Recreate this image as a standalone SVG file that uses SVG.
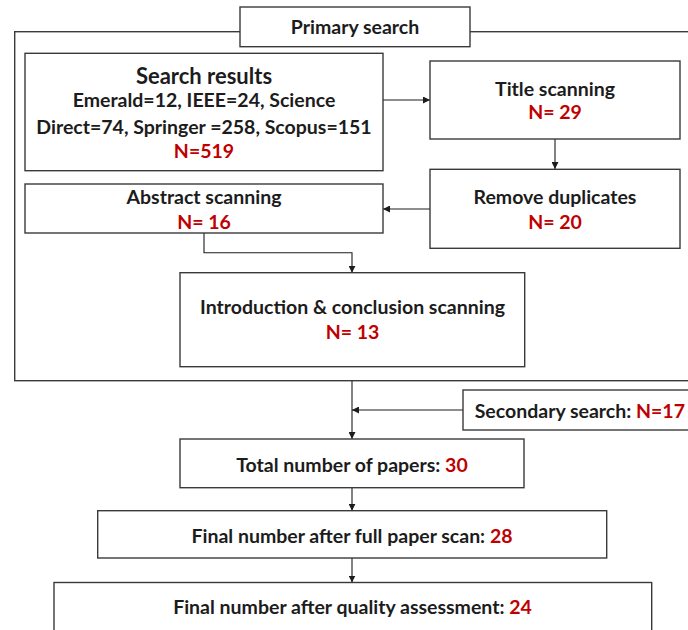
<svg xmlns="http://www.w3.org/2000/svg" width="688" height="630" viewBox="0 0 688 630">
<defs>
<style>
.box{fill:#ffffff;stroke:#3a3a3a;stroke-width:1.4}
.frame{fill:none;stroke:#3a3a3a;stroke-width:1.4}
.t{font-family:Lato,"Liberation Sans",sans-serif;font-weight:bold;font-size:19.5px;fill:#1c1c1c;text-anchor:middle}
.big{font-size:22px}
.sec{text-anchor:start}
.r{fill:#c00000}
.c{fill:none;stroke:#1c1c1c;stroke-width:1.1}
</style>
<marker id="ah" viewBox="0 0 10 10" refX="10" refY="5" markerWidth="7" markerHeight="7" markerUnits="userSpaceOnUse" orient="auto">
<path d="M0,0 L10,5 L0,10 z" fill="#1c1c1c"/>
</marker>
</defs>
<rect width="688" height="630" fill="#ffffff"/>
<g id="primary-frame">
<rect class="frame" x="14.7" y="31.7" width="690" height="349"/>
</g>
<g id="connectors">
<line class="c" x1="383" y1="100" x2="430" y2="100" marker-end="url(#ah)"/>
<line class="c" x1="555" y1="139" x2="555" y2="169" marker-end="url(#ah)"/>
<line class="c" x1="430" y1="209" x2="383" y2="209" marker-end="url(#ah)"/>
<polyline class="c" points="204,233 204,252.7 352,252.7 352,272.7" marker-end="url(#ah)"/>
<line class="c" x1="352" y1="381" x2="352" y2="439" marker-end="url(#ah)"/>
<line class="c" x1="463" y1="410" x2="352" y2="410" marker-end="url(#ah)"/>
<line class="c" x1="352" y1="487.7" x2="352" y2="510.7" marker-end="url(#ah)"/>
<line class="c" x1="352" y1="558" x2="352" y2="582.5" marker-end="url(#ah)"/>
</g>
<g id="primary-search">
<rect class="box" x="240" y="7" width="230" height="39.7"/>
<text class="t" x="355" y="34">Primary search</text>
</g>
<g id="search-results">
<rect class="box" x="25" y="53.3" width="358" height="117.4"/>
<text class="t big" x="204" y="83.5">Search results</text>
<text class="t" x="204" y="107">Emerald=12, IEEE=24, Science</text>
<text class="t" x="204" y="133.5">Direct=74, Springer =258, Scopus=151</text>
<text class="t r" x="204" y="158">N=519</text>
</g>
<g id="title-scanning">
<rect class="box" x="430" y="61" width="250" height="78"/>
<text class="t" x="555" y="96">Title scanning</text>
<text class="t r" x="555" y="119">N= 29</text>
</g>
<g id="remove-duplicates">
<rect class="box" x="430" y="169.3" width="250" height="79"/>
<text class="t" x="555" y="204">Remove duplicates</text>
<text class="t r" x="555" y="228.5">N= 20</text>
</g>
<g id="abstract-scanning">
<rect class="box" x="25" y="184" width="358" height="49"/>
<text class="t" x="204" y="204">Abstract scanning</text>
<text class="t r" x="204" y="229">N= 16</text>
</g>
<g id="intro-conclusion">
<rect class="box" x="180" y="272.7" width="344.7" height="94"/>
<text class="t" x="352.5" y="314">Introduction &amp; conclusion scanning</text>
<text class="t r" x="352.5" y="339">N= 13</text>
</g>
<g id="secondary-search">
<rect class="box" x="463" y="390" width="240" height="40"/>
<text class="t sec" x="474.7" y="417.5">Secondary search: <tspan class="r">N=17</tspan></text>
</g>
<g id="total-papers">
<rect class="box" x="180" y="439" width="344" height="48.7"/>
<text class="t" x="352" y="471.5">Total number of papers: <tspan class="r">30</tspan></text>
</g>
<g id="full-paper-scan">
<rect class="box" x="97.7" y="510.7" width="509" height="47.3"/>
<text class="t" x="352" y="542.8">Final number after full paper scan: <tspan class="r">28</tspan></text>
</g>
<g id="quality-assessment">
<rect class="box" x="54" y="582.5" width="597.7" height="60"/>
<text class="t" x="352.5" y="613.5">Final number after quality assessment: <tspan class="r">24</tspan></text>
</g>
</svg>
